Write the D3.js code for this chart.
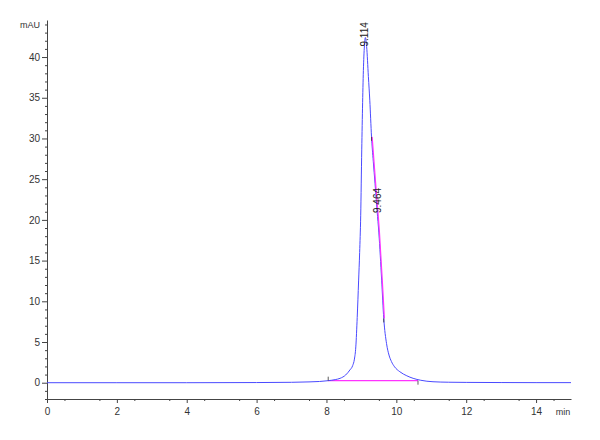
<!DOCTYPE html>
<meta charset="utf-8">
<style>
body { margin: 0; background: #fff; }
svg { font-family: "Liberation Sans Narrow", "Arial Narrow", "Liberation Sans", Arial, sans-serif; }
.axis text { font-size: 10px; fill: #333; }
.axis path, .axis line { stroke: #444; }
</style>
<body>
<svg width="600" height="440"></svg>
<script src="https://d3js.org/d3.v7.min.js"></script>
<script>
// signal trace (min, mAU)
var times = [0, 2, 4, 6, 7, 7.5, 7.8, 8.05, 8.25, 8.39, 8.55, 8.67, 8.75, 8.8, 8.84, 8.88, 8.92, 8.95, 8.98,
  9.01, 9.06, 9.09, 9.114, 9.15, 9.2, 9.24, 9.29, 9.34, 9.39, 9.45, 9.5, 9.58, 9.64, 9.72, 9.79,
  9.86, 9.95, 10.1, 10.3, 10.48, 10.7, 11.05, 11.5, 12, 13, 14, 15];
var signal = [0, 0, 0, 0.02, 0.05, 0.1, 0.15, 0.25, 0.38, 0.54, 0.95, 1.56, 2.1, 2.9, 4.4, 8.0, 12.5, 16.0, 20.5,
  28.6, 38.8, 41.6, 42.4, 41.3, 37.6, 34.7, 30.2, 27.2, 24.5, 21.1, 18.4, 12.6, 7.9, 4.8, 3.4,
  2.6, 1.95, 1.35, 0.85, 0.54, 0.3, 0.12, 0.06, 0.04, 0.02, 0.01, 0.01];

// integration: baseline and shoulder split on the tail
var baseTimes = [8.05, 10.62];
var baseValues = [0.25, 0.25];
var splitTimes = [9.29, 9.39, 9.5, 9.58, 9.64];
var splitValues = [30.2, 24.5, 18.4, 12.6, 7.9];

var peakTimes = [9.114, 9.464];
var peakHeights = [42.4, 20.6];
var peakLabels = ["9.114", "9.464"];

var svg = d3.select("svg");

var x = d3.scaleLinear().domain([0, 15]).range([47, 571]);
var y = d3.scaleLinear().domain([-2, 44.55]).range([399, 20]);

// x axis: labels every 2 min, minor every 0.5
var xAxis = svg.append("g").attr("class", "axis")
    .attr("transform", "translate(0,399)")
    .call(d3.axisBottom(x).tickValues(d3.range(0, 15, 2)).tickSize(4).tickPadding(3).tickSizeOuter(0));
svg.append("g").attr("class", "axis")
    .attr("transform", "translate(0,399)")
    .call(d3.axisBottom(x).tickValues(d3.range(0.5, 15.01, 1)).tickSize(2).tickFormat("").tickSizeOuter(0))
    .select(".domain").remove();
xAxis.selectAll("text").attr("dy", "0.9em");

svg.append("text")
    .attr("x", 563).attr("y", 415)
    .attr("text-anchor", "middle")
    .style("font-size", "9px").style("fill", "#333")
    .text("min");

// y axis: labels every 5 mAU, minor every 1
var yAxis = svg.append("g").attr("class", "axis")
    .attr("transform", "translate(47,0)")
    .call(d3.axisLeft(y).tickValues(d3.range(0, 41, 5)).tickSize(5).tickPadding(2).tickSizeOuter(0));
svg.append("g").attr("class", "axis")
    .attr("transform", "translate(47,0)")
    .call(d3.axisLeft(y).tickValues(d3.range(-2, 45, 1).filter(function(v) { return v % 5 != 0; }))
      .tickSize(2).tickFormat("").tickSizeOuter(0))
    .select(".domain").remove();

svg.append("text")
    .attr("x", 40).attr("y", 28)
    .attr("text-anchor", "end")
    .style("font-size", "9px").style("fill", "#333")
    .text("mAU");

var line = d3.line()
    .x(function(d) { return x(d[0]); })
    .y(function(d) { return y(d[1]); });

// baseline of the integrated peak
svg.append("path")
    .datum(d3.zip(baseTimes, baseValues))
    .attr("d", line)
    .attr("fill", "none")
    .attr("stroke", "#ff33ff")
    .attr("stroke-width", 1.2);

// trace
svg.append("path")
    .datum(d3.zip(times, signal))
    .attr("d", line.curve(d3.curveMonotoneX))
    .attr("fill", "none")
    .attr("stroke", "#4a4aff")
    .attr("stroke-width", 1);

// shoulder drop line
svg.append("path")
    .datum(d3.zip(splitTimes, splitValues))
    .attr("d", line.curve(d3.curveMonotoneX))
    .attr("fill", "none")
    .attr("stroke", "#ff33ff")
    .attr("stroke-width", 1.2)
    .attr("transform", "translate(0.6,0)");

// start/stop markers
var marks = [[baseTimes[0], baseValues[0], -4], [baseTimes[1], baseValues[1], 4],
  [splitTimes[0], splitValues[0], 4], [splitTimes[splitTimes.length - 1], splitValues[splitValues.length - 1], 4]];
svg.selectAll(".mark")
  .data(marks)
  .enter().append("line")
    .attr("class", "mark")
    .attr("x1", function(d) { return x(d[0]); })
    .attr("x2", function(d) { return x(d[0]); })
    .attr("y1", function(d) { return y(d[1]); })
    .attr("y2", function(d) { return y(d[1]) + d[2]; })
    .attr("stroke", "#333")
    .attr("stroke-width", 0.8);

// retention time labels
svg.selectAll(".rt")
  .data(peakTimes)
  .enter().append("text")
    .attr("class", "rt")
    .attr("transform", function(d, i) {
      return "translate(" + (x(d) + 3) + "," + (y(peakHeights[i]) + (i == 0 ? 9 : -2)) + ")rotate(-90)";
    })
    .style("font-size", "10px")
    .style("fill", "#222")
    .text(function(d, i) { return peakLabels[i]; });
</script>
</body>
